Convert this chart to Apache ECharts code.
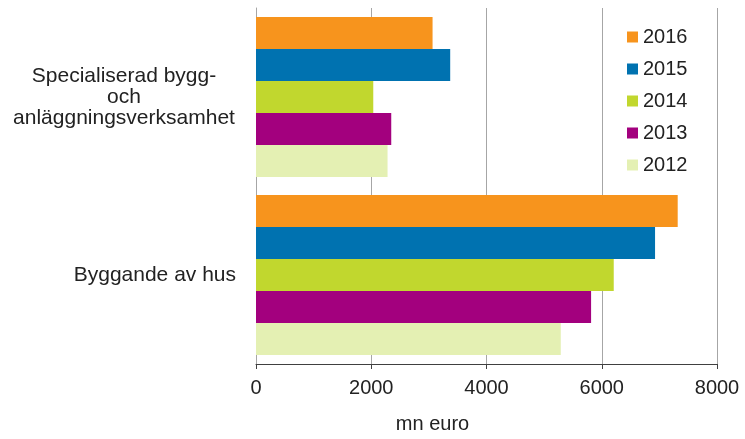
<!DOCTYPE html>
<html><head><meta charset="utf-8">
<script src="https://cdn.jsdelivr.net/npm/echarts@6/dist/echarts.min.js"></script>
<style>html,body{margin:0;padding:0;background:#fff}#c{width:745px;height:439px}</style>
</head><body><div id="c"></div>
<script>
const categories = ['Specialiserad bygg-\noch\nanläggningsverksamhet', 'Byggande av hus'];
const years = ['2016', '2015', '2014', '2013', '2012'];
const values2016 = [3064, 7318];
const values2015 = [3370, 6925];
const values2014 = [2035, 6208];
const values2013 = [2347, 5815];
const values2012 = [2283, 5289];
const xTicks = [0, 2000, 4000, 6000, 8000];
const colors = ['#F7941D', '#0072B0', '#C1D72E', '#A3007E', '#E4F0B3'];
const seriesValues = [values2016, values2015, values2014, values2013, values2012];

const FONT = 'Liberation Sans, Arial, sans-serif';
const chart = echarts.init(document.getElementById('c'), null, {renderer: 'canvas'});
chart.setOption({
  animation: false,
  textStyle: {fontFamily: FONT},
  grid: {left: 256, right: 28, top: 8, bottom: 74, containLabel: false},
  legend: {
    data: years, orient: 'vertical', left: 622, top: 22,
    itemWidth: 11, itemHeight: 11, itemGap: 12, itemTextGap: 5,
    icon: 'rect',
    textStyle: {fontSize: 20, color: '#222', fontFamily: FONT}
  },
  xAxis: {
    type: 'value', min: xTicks[0], max: xTicks[xTicks.length - 1], interval: 2000,
    name: 'mn euro', nameLocation: 'middle', nameGap: 50,
    nameTextStyle: {fontSize: 20, color: '#222', padding: [0, 108, 0, 0], fontFamily: FONT},
    axisLine: {show: true, lineStyle: {color: '#404040', width: 1}},
    axisTick: {show: true, length: 5, lineStyle: {color: '#404040'}},
    axisLabel: {fontSize: 20, color: '#222', margin: 14, fontFamily: FONT,
      formatter: function (v) { return String(v); }},
    splitLine: {show: true, lineStyle: {color: '#a6a6a6', width: 1}}
  },
  yAxis: {
    type: 'category', data: categories, inverse: true,
    axisLine: {show: true, lineStyle: {color: '#a6a6a6'}},
    axisTick: {show: false},
    axisLabel: {
      fontSize: 21, color: '#222', margin: 20, align: 'right', lineHeight: 21, fontFamily: FONT,
      formatter: function (v) {
        if (v.indexOf('\n') < 0) return v;
        return v.split('\n').map(function (l) { return '{c|' + l + '}'; }).join('\n');
      },
      rich: {c: {width: 224, align: 'center', fontSize: 21, lineHeight: 21, color: '#222', fontFamily: FONT}}
    }
  },
  series: years.map(function (y, i) {
    return {
      name: y, type: 'bar', data: seriesValues[i],
      barGap: '0%', barCategoryGap: '10%',
      itemStyle: {color: colors[i]}
    };
  })
});
</script></body></html>
